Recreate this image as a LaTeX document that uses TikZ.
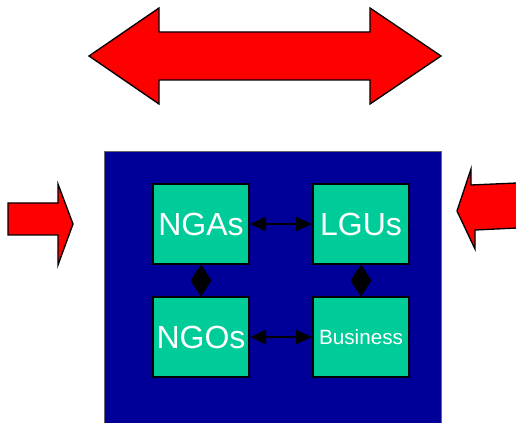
\documentclass[tikz,border=0pt]{standalone}
\usepackage{fontspec}
\setmainfont{Liberation Sans}
\usetikzlibrary{arrows.meta,calc}
\definecolor{panel}{RGB}{0,0,153}
\definecolor{boxg}{RGB}{0,204,153}
\tikzset{
  org/.style={draw=black, line width=1.5pt, fill=boxg, minimum width=72pt, minimum height=60pt, inner sep=0pt, text=white, font=\fontsize{24}{27}\selectfont},
  bigarrow/.style={draw=black, line width=1pt, fill=red, line join=miter},
  link/.style={line width=1.5pt, {Triangle[length=12pt,width=10.5pt]}-{Triangle[length=12pt,width=10.5pt]}},
  vlink/.style={fill=black, draw=black, line width=0.5pt, line join=miter}
}
\begin{document}
\begin{tikzpicture}[x=0.75pt,y=-0.75pt]
\useasboundingbox (0,0) rectangle (516,423);
% top double arrow
\draw[bigarrow] (89,56) -- (159,8) -- (159,32) -- (370,32) -- (370,8) -- (441,56) -- (370,104) -- (370,80) -- (159,80) -- (159,104) -- cycle;
% left arrow
\draw[bigarrow] (8,203) -- (58,203) -- (58,184) -- (73,224) -- (58,265) -- (58,235) -- (8,235) -- cycle;
% right arrow (slightly tilted, running off the right edge)
\draw[bigarrow] (517,183) -- (471,185) -- (471,169) -- (457,211) -- (475,249) -- (475,230) -- (517,228);
% panel
\draw[draw=black!60, fill=panel, line width=0.75pt] (104,152) rectangle (441,426);
% boxes
\node[org] (nga) at (201,224) {NGAs};
\node[org] (lgu) at (361,224) {LGUs};
\node[org] (ngo) at (201,337) {NGOs};
\node[org, font=\fontsize{15.5}{18}\selectfont] (bus) at (361,337) {Business};
% connectors
\draw[link] (nga) -- (lgu);
\draw[link] (ngo) -- (bus);
\draw[vlink] (nga.south) -- ([xshift=7.5]$(nga.south)!0.5!(ngo.north)$) -- (ngo.north) -- ([xshift=-7.5]$(nga.south)!0.5!(ngo.north)$) -- cycle;
\draw[vlink] (lgu.south) -- ([xshift=7.5]$(lgu.south)!0.5!(bus.north)$) -- (bus.north) -- ([xshift=-7.5]$(lgu.south)!0.5!(bus.north)$) -- cycle;
\end{tikzpicture}
\end{document}
